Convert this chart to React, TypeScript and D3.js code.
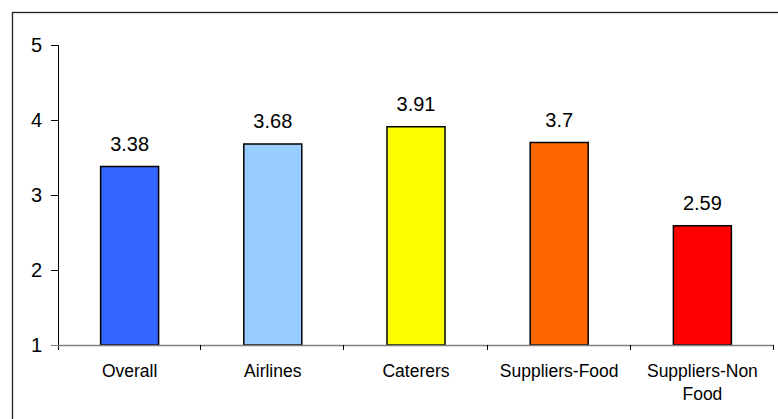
import React, { useEffect, useRef } from "react";
import * as d3 from "d3";

const categories = ["Overall", "Airlines", "Caterers", "Suppliers-Food", "Suppliers-Non Food"];
const values = [3.38, 3.68, 3.91, 3.7, 2.59];
const colors = ["#3366FF", "#99CCFF", "#FFFF00", "#FF6600", "#FF0000"];
const yTicks = [1, 2, 3, 4, 5];

const FONT = "'Liberation Sans', Arial, Helvetica, sans-serif";

const App = () => {
  const ref = useRef<SVGSVGElement>(null);

  useEffect(() => {
    const svg = d3.select(ref.current);
    svg.selectAll("*").remove();

    const width = 778;
    const height = 419;
    const left = 58;
    const right = 774;
    const top = 45;
    const bottom = 345;

    // frame of the chart area (cut off at right and bottom)
    svg.append("rect")
      .attr("x", 12.5)
      .attr("y", 12.5)
      .attr("width", width)
      .attr("height", height)
      .attr("fill", "white")
      .attr("stroke", "#222")
      .attr("stroke-width", 1.3);

    const x = d3.scaleBand().domain(categories).range([left, right]).padding(0);
    const y = d3.scaleLinear().domain([1, 5]).range([bottom, top]);
    const barW = x.bandwidth() * 0.405;

    // y axis
    svg.append("line")
      .attr("x1", left + 0.5).attr("x2", left + 0.5)
      .attr("y1", top).attr("y2", bottom + 5)
      .attr("stroke", "black");

    svg.selectAll(".ytick")
      .data(yTicks)
      .enter().append("line")
      .attr("x1", left - 7).attr("x2", left)
      .attr("y1", d => Math.round(y(d)) + 0.5)
      .attr("y2", d => Math.round(y(d)) + 0.5)
      .attr("stroke", d => (d === 1 ? "#808080" : "black"));

    svg.selectAll(".ylabel")
      .data(yTicks)
      .enter().append("text")
      .attr("x", 42)
      .attr("y", d => y(d) + 7)
      .attr("text-anchor", "end")
      .attr("font-family", FONT)
      .attr("font-size", 20)
      .text(d => d);

    // bars
    svg.selectAll(".bar")
      .data(values)
      .enter().append("rect")
      .attr("x", (d, i) => x(categories[i])! + x.bandwidth() / 2 - barW / 2)
      .attr("y", d => y(d))
      .attr("width", barW)
      .attr("height", d => y(1) - y(d))
      .attr("fill", (d, i) => colors[i])
      .attr("stroke", "black")
      .attr("stroke-width", 1.5);

    // x axis
    svg.append("line")
      .attr("x1", left).attr("x2", right)
      .attr("y1", bottom + 0.5).attr("y2", bottom + 0.5)
      .attr("stroke", "#808080")
      .attr("stroke-width", 1.5);

    const bounds = categories.map(c => x(c)!).concat([right]);
    svg.selectAll(".xtick")
      .data(bounds.slice(1))
      .enter().append("line")
      .attr("x1", d => Math.round(d) - 0.5).attr("x2", d => Math.round(d) - 0.5)
      .attr("y1", bottom).attr("y2", bottom + 5)
      .attr("stroke", "black");

    // category labels
    const labels = svg.selectAll(".xlabel")
      .data(categories)
      .enter().append("text")
      .attr("text-anchor", "middle")
      .attr("font-family", FONT)
      .attr("font-size", 17.5)
      .attr("fill", "black");
    labels.each(function (d) {
      const t = d3.select(this);
      d.split(" ").forEach((line, k) => {
        t.append("tspan")
          .attr("x", x(d)! + x.bandwidth() / 2)
          .attr("y", 377 + k * 23.3)
          .text(line);
      });
    });

    // value labels
    svg.selectAll(".value-label")
      .data(values)
      .enter().append("text")
      .attr("x", (d, i) => x(categories[i])! + x.bandwidth() / 2)
      .attr("y", d => y(d) - 16)
      .attr("text-anchor", "middle")
      .attr("font-family", FONT)
      .attr("font-size", 20)
      .text(d => d);
  }, []);

  return (
    <svg
      ref={ref}
      width={778}
      height={419}
      style={{ position: "absolute", left: 0, top: 0, background: "white" }}
    />
  );
};

export default App;
